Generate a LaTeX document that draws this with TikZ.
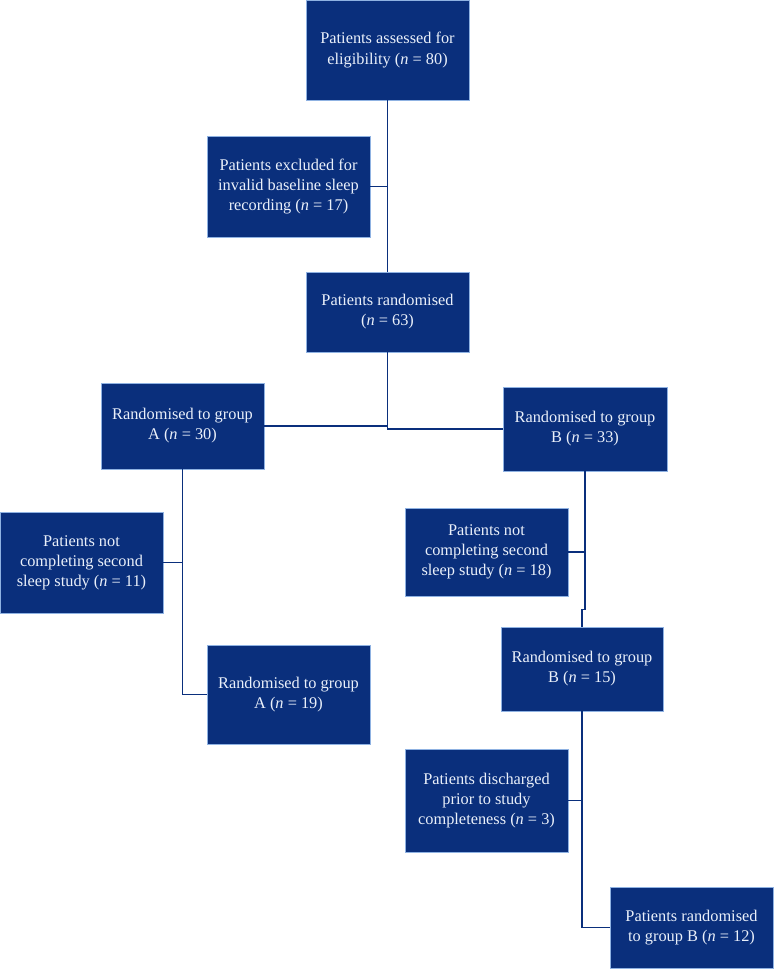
\documentclass[tikz,border=0pt]{standalone}
\usepackage{fontspec}
\usepackage{xcolor}
\usepackage{tikz}
\newfontfamily\boxfont{Liberation Serif}
\definecolor{boxfill}{HTML}{0A2F7C}
\definecolor{boxedge}{HTML}{8FB2E2}
\definecolor{boxtext}{HTML}{EAF0FA}
\definecolor{linkcol}{HTML}{0A2F7C}

\begin{document}
\begin{tikzpicture}[
  box/.style={draw=boxedge, line width=0.4pt, fill=boxfill, text=boxtext,
    minimum width=3.26cm, inner sep=0pt, align=center,
    font={\boxfont\fontsize{9.3}{11.4}\selectfont}},
  link/.style={draw=linkcol, line width=0.7pt}]
  \useasboundingbox (0,0) rectangle (15.48,-19.38);
  % main column
  \node[box, minimum height=2.00cm] (assess) at (7.75,-1.00) {Patients assessed for\\eligibility (\textit{n} = 80)};
  \node[box, minimum height=2.02cm] (excl) at (5.77,-3.73) {Patients excluded for\\invalid baseline sleep\\recording (\textit{n} = 17)};
  \node[box, minimum height=1.60cm] (rand) at (7.75,-6.24) {Patients randomised\\(\textit{n} = 63)};
  % group A
  \node[box, minimum height=1.72cm] (grpA) at (3.65,-8.52) {Randomised to group\\A (\textit{n} = 30)};
  \node[box, minimum height=2.02cm] (nocA) at (1.63,-11.25) {Patients not\\completing second\\sleep study (\textit{n} = 11)};
  \node[box, minimum height=1.98cm] (grpA2) at (5.77,-13.89) {Randomised to group\\A (\textit{n} = 19)};
  % group B
  \node[box, minimum height=1.68cm, minimum width=3.28cm] (grpB) at (11.70,-8.58) {Randomised to group\\B (\textit{n} = 33)};
  \node[box, minimum height=1.76cm] (nocB) at (9.73,-11.04) {Patients not\\completing second\\sleep study (\textit{n} = 18)};
  \node[box, minimum height=1.68cm, minimum width=3.24cm] (grpB2) at (11.64,-13.38) {Randomised to group\\B (\textit{n} = 15)};
  \node[box, minimum height=2.06cm] (disch) at (9.73,-16.01) {Patients discharged\\prior to study\\completeness (\textit{n} = 3)};
  \node[box, minimum height=1.62cm] (grpB3) at (13.83,-18.55) {Patients randomised\\to group B (\textit{n} = 12)};

  % connectors
  \draw[link] (assess.south) -- (rand.north);
  \draw[link] (excl.east) -- (excl.east -| assess.south);
  \draw[link] (rand.south) |- (grpA.east);
  \draw[link] (rand.south) |- (grpB.west);
  \draw[link] (grpA.south) |- (grpA2.west);
  \draw[link] (nocA.east) -- (nocA.east -| grpA.south);
  \draw[link] (grpB.south) |- ([yshift=0.34cm]grpB2.north) -- (grpB2.north);
  \draw[link] (nocB.east) -- (nocB.east -| grpB.south);
  \draw[link] (grpB2.south) |- (grpB3.west);
  \draw[link] (disch.east) -- (disch.east -| grpB2.south);
\end{tikzpicture}
\end{document}
